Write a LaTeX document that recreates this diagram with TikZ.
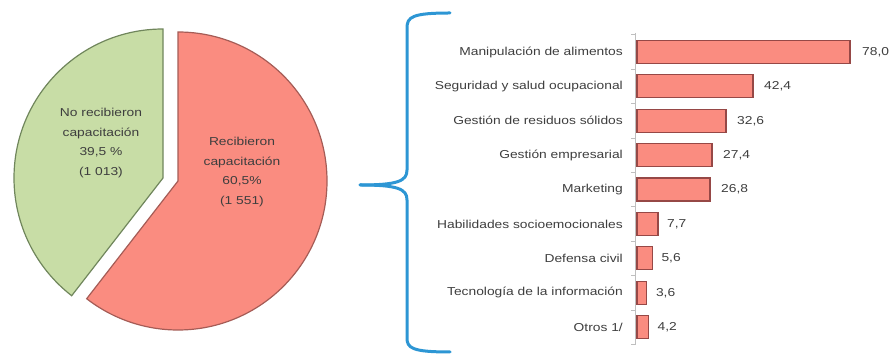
\documentclass[tikz,border=0pt]{standalone}
\usepackage{fontspec}
\newfontfamily\lblfont{Liberation Sans}[FakeStretch=1.2]
\usetikzlibrary{positioning}

\definecolor{pieGreen}{RGB}{200,221,166}
\definecolor{pieGreenEdge}{RGB}{112,134,92}
\definecolor{pieRed}{RGB}{250,140,128}
\definecolor{pieRedEdge}{RGB}{165,92,86}
\definecolor{barEdge}{RGB}{150,72,70}
\definecolor{braceBlue}{RGB}{45,150,212}
\definecolor{txtGray}{RGB}{62,62,62}

\begin{document}
\begin{tikzpicture}[x=1pt,y=1pt,
		lbl/.style={font=\lblfont\fontsize{11.5}{19.5}\selectfont, text=txtGray, inner sep=0pt},
		pielbl/.style={lbl, align=center},
		bar/.style={draw=barEdge, line width=1.2pt, fill=pieRed, minimum height=23pt, inner sep=0pt, outer sep=0pt, anchor=west},
		cat/.style={lbl, anchor=east},
		val/.style={lbl, anchor=west},
		brace/.style={draw=braceBlue, line width=3pt, line cap=round}]

		\useasboundingbox (0,0) rectangle (895,358);

			\filldraw [fill=pieRed, draw=pieRedEdge, line width=1.2pt] (178,177) -- ++(90:149) arc[start angle=90, end angle=-127.8, radius=149] -- cycle;
			\filldraw [fill=pieGreen, draw=pieGreenEdge, line width=1.2pt] (163,180) -- ++(90:149) arc[start angle=90, end angle=232.2, radius=149] -- cycle;

			\node[pielbl] (norec) at (101,215) {No recibieron\\capacitación\\39,5 \%\\(1 013)};
			\node[pielbl] (rec) at (242,186) {Recibieron\\capacitación\\60,5\%\\(1 551)};

			\coordinate (bracetop) at (450,345);
			\coordinate (bracetip) at (360,173);
			\coordinate (bracebot) at (450,6);

			\draw [brace] (bracetop) .. controls (412,345) and (407,341) .. (407,330) -- (407,188) .. controls (407,177) and (398,173) .. (bracetip);
			\draw [brace] (bracetip) .. controls (398,173) and (407,169) .. (407,158) -- (407,20) .. controls (407,10) and (412,6) .. (bracebot);

			\draw [black!25, line width=0.6pt] (635,325) -- (635,13);
			\foreach \k in {0,...,9}
				\draw [black!25, line width=0.6pt] (635,323.2-34.4*\k) -- (631,323.2-34.4*\k);

			\node[bar, minimum width=213pt] (b1) at (637,306.0) {};
			\node[bar, minimum width=116pt] (b2) at (637,271.6) {};
			\node[bar, minimum width=89pt] (b3) at (637,237.2) {};
			\node[bar, minimum width=75pt] (b4) at (637,202.8) {};
			\node[bar, minimum width=73pt] (b5) at (637,168.4) {};
			\node[bar, minimum width=21pt] (b6) at (637,134.0) {};
			\node[bar, minimum width=15.3pt] (b7) at (637,99.6) {};
			\node[bar, minimum width=9.8pt] (b8) at (637,65.2) {};
			\node[bar, minimum width=11.5pt] (b9) at (637,30.8) {};

			\node[cat, left=14pt of b1.west] (c1) {Manipulación de alimentos};
			\node[cat, left=14pt of b2.west] (c2) {Seguridad y salud ocupacional};
			\node[cat, left=14pt of b3.west] (c3) {Gestión de residuos sólidos};
			\node[cat, left=14pt of b4.west] (c4) {Gestión empresarial};
			\node[cat, left=14pt of b5.west] (c5) {Marketing};
			\node[cat, left=14pt of b6.west] (c6) {Habilidades socioemocionales};
			\node[cat, left=14pt of b7.west] (c7) {Defensa civil};
			\node[cat, left=14pt of b8.west] (c8) {Tecnología de la información};
			\node[cat, left=14pt of b9.west] (c9) {Otros 1/};

			\node[val, right=12pt of b1.east] (v1) {78,0};
			\node[val, right=11pt of b2.east] (v2) {42,4};
			\node[val, right=11pt of b3.east] (v3) {32,6};
			\node[val, right=11pt of b4.east] (v4) {27,4};
			\node[val, right=11pt of b5.east] (v5) {26,8};
			\node[val, right=9pt of b6.east] (v6) {7,7};
			\node[val, right=9pt of b7.east] (v7) {5,6};
			\node[val, right=9pt of b8.east] (v8) {3,6};
			\node[val, right=9pt of b9.east] (v9) {4,2};

	\end{tikzpicture}
\end{document}
